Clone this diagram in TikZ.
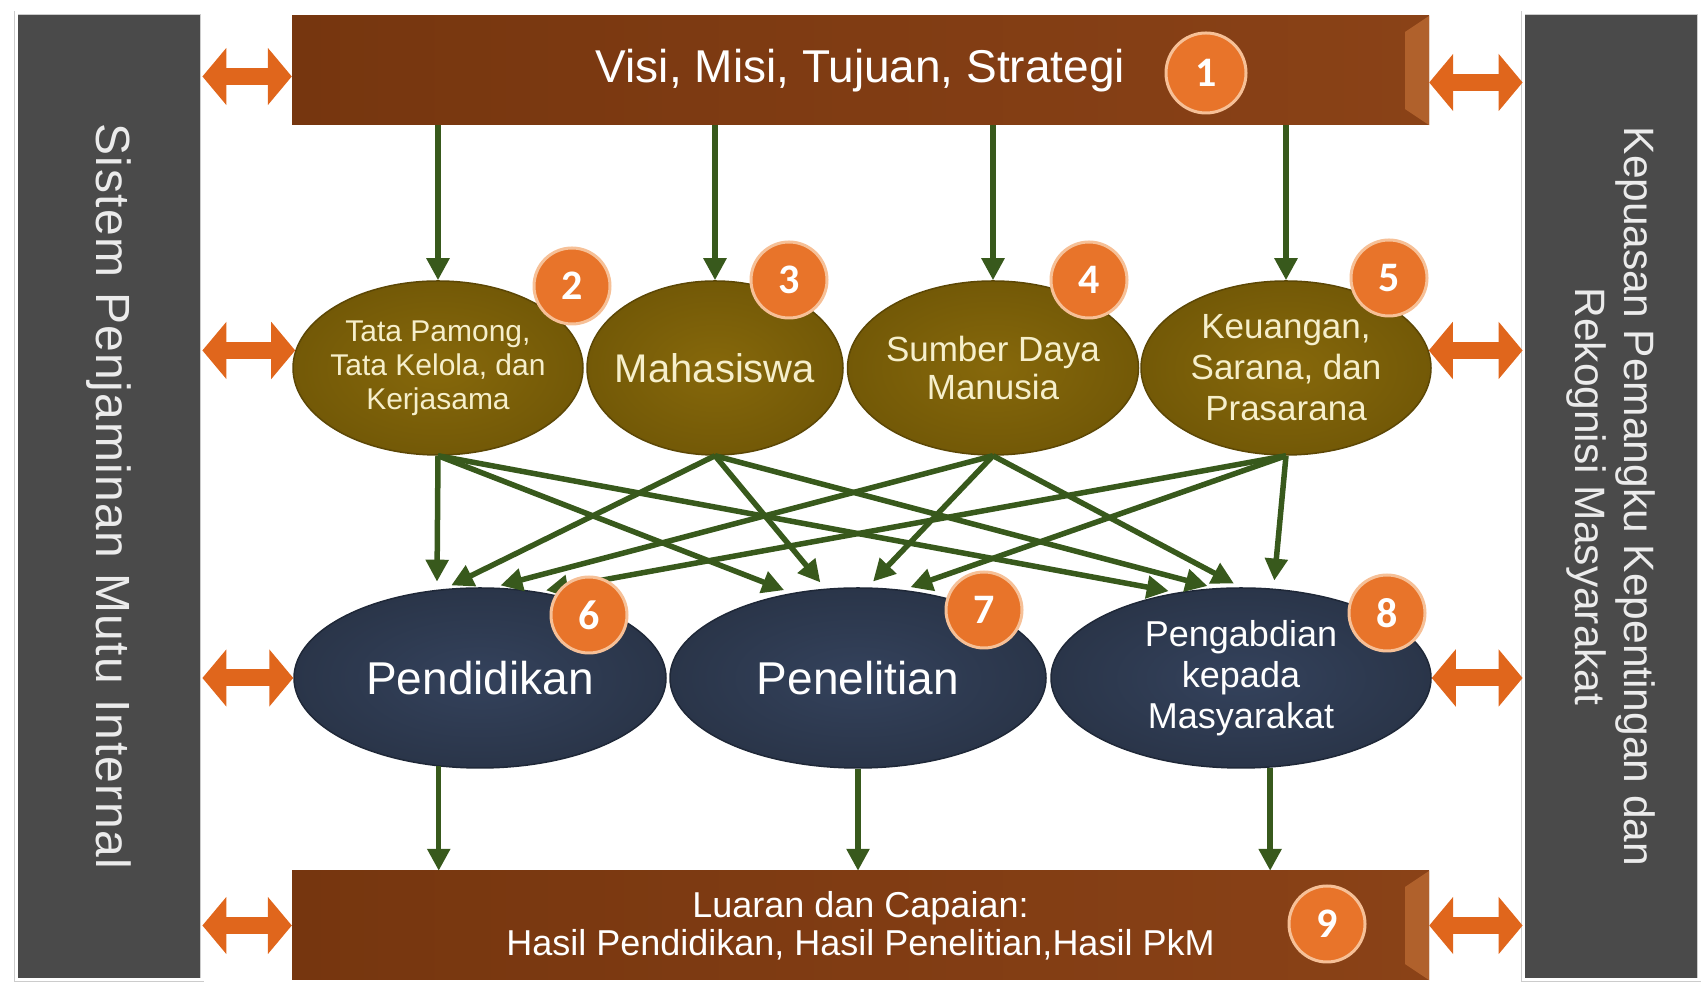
\documentclass[tikz,border=0pt]{standalone}
\usepackage{fontspec}
\setmainfont{Liberation Sans}
\newfontfamily\badgefont{Carlito}
\newfontfamily\spacedfont{Liberation Sans}[LetterSpace=3]
\usetikzlibrary{arrows.meta,shapes.geometric,calc}

\definecolor{bargray}{HTML}{4A4A4A}
\definecolor{boxbrown}{HTML}{76360F}
\definecolor{boxbrownlight}{HTML}{8A4217}
\definecolor{bevelbrown}{HTML}{B0612C}
\definecolor{goldin}{HTML}{86680B}
\definecolor{goldout}{HTML}{735907}
\definecolor{goldedge}{HTML}{5C4705}
\definecolor{goldtext}{HTML}{F6EFCB}
\definecolor{navyin}{HTML}{34425C}
\definecolor{navyout}{HTML}{2A3549}
\definecolor{navyedge}{HTML}{1F2838}
\definecolor{flowgreen}{HTML}{38591C}
\definecolor{linkorange}{HTML}{E0661C}
\definecolor{badgeorange}{HTML}{E8742A}
\definecolor{badgerim}{HTML}{F6C097}

\tikzset{
  sidebar/.style={rectangle, fill=bargray, draw=black!20, double=white,
    double distance=3pt, line width=0.8pt, inner sep=0pt},
  sidetext/.style={text=black!8, align=center},
  mainbox/.style={rectangle, left color=boxbrown, right color=boxbrownlight,
    inner sep=0pt, minimum width=1137pt, minimum height=109pt,
    text=white, align=center},
  goldnode/.style={ellipse, inner color=goldin, outer color=goldout,
    draw=goldedge, line width=1.5pt, minimum height=174pt,
    inner xsep=-20pt, inner ysep=0pt, text=goldtext, align=center},
  navynode/.style={ellipse, inner color=navyin, outer color=navyout,
    draw=navyedge, line width=1.5pt, minimum height=180pt,
    inner sep=0pt, text=white, align=center},
  badge/.style={circle, fill=badgeorange, draw=badgerim, line width=3pt,
    minimum size=76pt, inner sep=0pt, text=white,
    font=\badgefont\bfseries\fontsize{42}{42}\selectfont},
  flow/.style={draw=flowgreen, line width=5.5pt,
    -{Triangle[width=22pt,length=22pt]}},
  link/.style={draw=linkorange, line width=17pt,
    {Triangle[width=56pt,length=24pt]}-{Triangle[width=56pt,length=24pt]}}
}

\begin{document}
\begin{tikzpicture}[x=1pt, y=1pt]
  \useasboundingbox (0,0) rectangle (1708,984);

  % side bars
  \node[sidebar, minimum width=186pt, minimum height=967pt] (lbar) at (109,487.5) {};
  \node[sidetext, rotate=-90, font=\spacedfont\fontsize{48}{56}\selectfont] (lbartext) at (lbar) {Sistem Penjaminan Mutu Internal};
  \node[sidebar, minimum width=176pt, minimum height=967pt] (rbar) at (1611,487.5) {};
  \node[sidetext, rotate=-90, font=\fontsize{42.5}{49}\selectfont] (rbartext) at (rbar) {Kepuasan Pemangku Kepentingan dan\\Rekognisi Masyarakat};

  % top and bottom boxes
  \node[mainbox, font=\fontsize{46}{52}\selectfont] (top) at (860.5,913.5) {Visi, Misi, Tujuan, Strategi};
  \node[mainbox, font=\fontsize{36}{38}\selectfont] (bot) at (860.5,58.5) {Luaran dan Capaian:\\Hasil Pendidikan, Hasil Penelitian,Hasil PkM};
  \foreach \b in {top,bot}
    \fill[bevelbrown] (\b.north east) -- (\b.south east) -- ($(\b.south east)+(-24,16)$) -- ($(\b.north east)+(-24,-16)$) -- cycle;

  % standards row
  \node[goldnode, minimum width=290pt, font=\fontsize{30}{34}\selectfont] (g2) at (438,616) {Tata Pamong,\\Tata Kelola, dan\\Kerjasama};
  \node[goldnode, minimum width=256pt, font=\fontsize{40}{44}\selectfont] (g3) at (715,616) {Mahasiswa};
  \node[goldnode, minimum width=291pt, font=\fontsize{35}{38}\selectfont] (g4) at (993,616) {Sumber Daya\\Manusia};
  \node[goldnode, minimum width=290pt, font=\fontsize{35}{41}\selectfont] (g5) at (1286,616) {Keuangan,\\Sarana, dan\\Prasarana};

  % tridharma row
  \node[navynode, minimum width=372pt, font=\fontsize{46}{50}\selectfont] (b6) at (480,306) {Pendidikan};
  \node[navynode, minimum width=376pt, font=\fontsize{46}{50}\selectfont] (b7) at (858,306) {Penelitian};
  \node[navynode, minimum width=380pt, font=\fontsize{36}{41}\selectfont] (b8) at (1241,306) {Pengabdian\\kepada\\Masyarakat};

  % green arrows
  \foreach \g in {g2,g3,g4,g5}
    \draw[flow] (top.south -| \g.north) -- (\g.north);
  \foreach \g/\b/\a in {g2/b6/116, g3/b6/112, g4/b6/82, g5/b6/56,
                        g2/b7/128, g3/b7/110, g4/b7/84, g5/b7/63,
                        g2/b8/127, g3/b8/106, g4/b8/90, g5/b8/70}
    \draw[flow, shorten >=8pt] (\g.south) -- (\b.\a);
  \foreach \b/\a in {b6/245, b7/270, b8/288}
    \draw[flow] (\b.\a) -- (\b.\a |- bot.north);

  % orange links to the side bars
  \coordinate (topl) at ([yshift=-6pt]top.west);
  \coordinate (topr) at ([yshift=-12pt]top.east);
  \draw[link] (lbar.east |- topl) -- (topl);
  \draw[link] (lbar.east |- g2.173) -- (g2.173);
  \draw[link] (lbar.east |- b6.west) -- (b6.west);
  \draw[link] (lbar.east |- bot.west) -- (bot.west);
  \draw[link] (topr) -- (topr -| rbar.west);
  \draw[link] (g5.7) -- (g5.7 -| rbar.west);
  \draw[link] (b8.east) -- (b8.east -| rbar.west);
  \draw[link] (bot.east) -- (bot.east -| rbar.west);

  % numbers
  \node[badge, minimum size=80pt] (n1) at (1206,911) {1};
  \foreach \n/\x/\y in {2/572/698, 3/789/704, 4/1089/704, 5/1389/706,
                        6/589/369, 7/984/374, 8/1387/371, 9/1327/60}
    \node[badge] (n\n) at (\x,\y) {\n};
\end{tikzpicture}
\end{document}
